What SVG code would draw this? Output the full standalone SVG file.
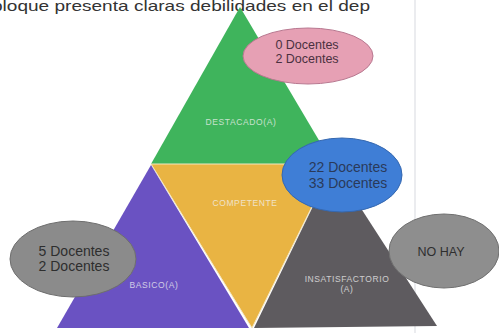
<svg xmlns="http://www.w3.org/2000/svg" width="499" height="333" viewBox="0 0 499 333">
<style>
.lbl{font-family:"Liberation Sans",Arial,sans-serif;font-size:8.5px;letter-spacing:0.6px;text-anchor:middle;fill:#f2f2f2;opacity:0.75}
.doc{font-family:"Liberation Sans",Arial,sans-serif;font-size:12.5px;text-anchor:middle}
.big{font-size:14px}
.top{font-family:"Liberation Sans",Arial,sans-serif;font-size:15px;fill:#333}
</style>
<rect width="499" height="333" fill="#ffffff"/>
<line x1="415" y1="0" x2="415" y2="333" stroke="#e4e6ea" stroke-width="1.5"/>
<text class="top" x="-8" y="11" textLength="378" lengthAdjust="spacingAndGlyphs">bloque presenta claras debilidades en el dep</text>
<g id="destacado">
<polygon points="240,7 151,164 333,164" fill="#3fb45c"/>
<text class="lbl" x="241" y="125">DESTACADO(A)</text>
</g>
<g id="competente">
<polygon points="151,164 333,164 252,328" fill="#e9b443" stroke="#f3e6c0" stroke-width="1"/>
<text class="lbl" x="245" y="206">COMPETENTE</text>
</g>
<g id="basico">
<polygon points="151,165 57,328 249,328" fill="#6a52c2"/>
<text class="lbl" x="154" y="288">BASICO(A)</text>
</g>
<g id="insatisfactorio">
<polygon points="333,165 254,328 437,326" fill="#5e5b5f"/>
<text class="lbl" x="347" y="282">INSATISFACTORIO</text>
<text class="lbl" x="347" y="292">(A)</text>
</g>
<g id="pink">
<ellipse cx="308" cy="56" rx="65" ry="28" fill="#e6a0b4" stroke="#b87890" stroke-width="1"/>
<text class="doc" x="307" y="49" fill="#4a3040">0 Docentes</text>
<text class="doc" x="307" y="63" fill="#4a3040">2 Docentes</text>
</g>
<g id="blue">
<ellipse cx="342" cy="175" rx="60" ry="37" fill="#3f7ed6" stroke="#3568b0" stroke-width="1"/>
<text class="doc big" x="348" y="172" fill="#2a3a5a">22 Docentes</text>
<text class="doc big" x="348" y="188" fill="#2a3a5a">33 Docentes</text>
</g>
<g id="gray-left">
<ellipse cx="73" cy="259" rx="63" ry="38" fill="#8b8b8b" stroke="#6e6e6e" stroke-width="1"/>
<text class="doc big" x="74" y="256" fill="#2e2e2e">5 Docentes</text>
<text class="doc big" x="74" y="271" fill="#2e2e2e">2 Docentes</text>
</g>
<g id="gray-right">
<ellipse cx="444" cy="251" rx="55" ry="37" fill="#8e8e8e" stroke="#707070" stroke-width="1"/>
<text class="doc" x="441" y="256" fill="#2e2e2e">NO HAY</text>
</g>
<g id="connectors"></g>
</svg>
